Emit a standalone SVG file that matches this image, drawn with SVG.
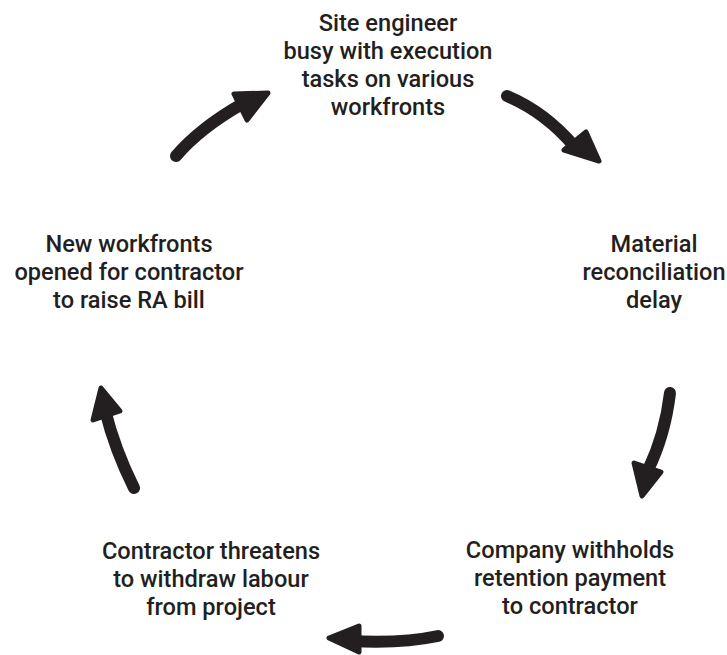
<svg xmlns="http://www.w3.org/2000/svg" width="727" height="655" viewBox="0 0 727 655">
  <style>
    .label { font-family: Roboto, "Liberation Sans", sans-serif; font-weight: 500; font-size: 23.6px; fill: #231f20; text-anchor: middle; }
    .shaft { fill: none; stroke: #231f20; stroke-width: 12; stroke-linecap: round; }
    .head { fill: #231f20; stroke: #231f20; stroke-width: 5; stroke-linejoin: round; }
  </style>
  <rect width="727" height="655" fill="#ffffff"/>

  <g id="node-site-engineer">
    <text class="label" x="388" y="31">Site engineer</text>
    <text class="label" x="388" y="59">busy with execution</text>
    <text class="label" x="388" y="87">tasks on various</text>
    <text class="label" x="388" y="115">workfronts</text>
  </g>

  <g id="node-material-delay">
    <text class="label" x="654" y="252">Material</text>
    <text class="label" x="654" y="280">reconciliation</text>
    <text class="label" x="654" y="308">delay</text>
  </g>

  <g id="node-withhold-retention">
    <text class="label" x="570" y="558">Company withholds</text>
    <text class="label" x="570" y="586">retention payment</text>
    <text class="label" x="570" y="614">to contractor</text>
  </g>

  <g id="node-contractor-threat">
    <text class="label" x="211" y="559">Contractor threatens</text>
    <text class="label" x="211" y="587">to withdraw labour</text>
    <text class="label" x="211" y="615">from project</text>
  </g>

  <g id="node-new-workfronts">
    <text class="label" x="129" y="252">New workfronts</text>
    <text class="label" x="129" y="280">opened for contractor</text>
    <text class="label" x="129" y="308">to raise RA bill</text>
  </g>

  <g id="connectors">
    <!-- new workfronts -> site engineer -->
    <path class="shaft" d="M176,156 Q200,128 242,104"/>
    <polygon class="head" points="234,94 268,93 247,120"/>
    <!-- site engineer -> material delay -->
    <path class="shaft" d="M507,96 Q545,112 574,146"/>
    <polygon class="head" points="564,150 586,132 599,161"/>
    <!-- material delay -> withhold retention -->
    <path class="shaft" d="M670,393 Q665,435 648,470"/>
    <polygon class="head" points="634,463 642,496 661,472"/>
    <!-- withhold retention -> contractor threat -->
    <path class="shaft" d="M438,636 Q400,644 350,641"/>
    <polygon class="head" points="359,626 329,638 359,652"/>
    <!-- contractor threat -> new workfronts -->
    <path class="shaft" d="M134,488 Q115,450 105,410"/>
    <polygon class="head" points="93,420 101,388 120,411"/>
  </g>
</svg>
